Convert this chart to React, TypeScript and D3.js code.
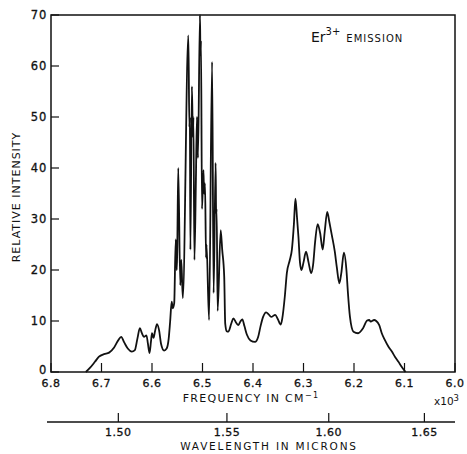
import React from 'react';
import * as d3 from 'd3';

// frequency in units of 10^3 cm^-1
const freq = [
  6.731, 6.723, 6.713, 6.705, 6.695, 6.685, 6.675, 6.667, 6.661, 6.655,
  6.648, 6.640, 6.634, 6.629, 6.624, 6.620, 6.616, 6.611, 6.608, 6.605,
  6.602, 6.600, 6.597, 6.594, 6.590, 6.586, 6.582, 6.576, 6.571, 6.567,
  6.564, 6.561, 6.559, 6.556, 6.553, 6.551, 6.550, 6.548, 6.544, 6.542,
  6.539, 6.528, 6.526, 6.525, 6.524, 6.521, 6.519, 6.518, 6.516, 6.513,
  6.511, 6.509, 6.505, 6.504, 6.503, 6.501, 6.498, 6.497, 6.495, 6.493,
  6.492, 6.487, 6.481, 6.478, 6.474, 6.473, 6.472, 6.470, 6.464, 6.461,
  6.457, 6.455, 6.452, 6.449, 6.443, 6.439, 6.433, 6.429, 6.425, 6.421,
  6.417, 6.412, 6.405, 6.396, 6.390, 6.385, 6.380, 6.374, 6.369, 6.364,
  6.356, 6.351, 6.345, 6.342, 6.337, 6.333, 6.327, 6.323, 6.319, 6.316,
  6.313, 6.310, 6.307, 6.304, 6.300, 6.295, 6.290, 6.285, 6.281, 6.277,
  6.272, 6.267, 6.262, 6.258, 6.253, 6.249, 6.244, 6.238, 6.234, 6.229,
  6.225, 6.220, 6.215, 6.212, 6.208, 6.201, 6.192, 6.182, 6.174, 6.170,
  6.167, 6.160, 6.156, 6.150, 6.145, 6.139, 6.132, 6.125, 6.119, 6.112,
  6.106, 6.101, 6.098,
];

const intensity = [
  0, 0.8, 2.0, 3.0, 3.5, 3.8, 4.8, 6.2, 6.9, 5.8,
  4.6, 4.0, 4.3, 6.5, 8.6, 7.6, 6.9, 7.2, 5.5, 3.7,
  6.0, 7.6, 6.7, 8.0, 9.4, 8.2, 5.5, 4.2, 4.6, 6.5,
  10, 13.8, 12.5, 13.5, 26, 20, 24, 40, 17, 22,
  14.5, 66, 48, 50, 24, 56, 46, 50, 22, 38,
  50, 42, 70, 62, 65, 32, 39.6, 35, 37, 22.4,
  25, 10.2, 60.8, 15.5, 41, 31, 32, 12, 27.8, 24,
  18.7, 9.5, 8.0, 7.9, 9.5, 10.5, 9.6, 9.2, 9.9, 10.3,
  9.0, 7.3, 6.2, 5.9, 6.8, 9.0, 10.8, 11.7, 11.3, 10.8,
  11.2, 10.4, 9.3, 10.5, 14.8, 19.4, 22, 24, 29, 34,
  30.5, 26.5, 21.5, 20, 21.5, 23.6, 21.5, 19.4, 21.0, 25.5,
  29, 27.2, 24, 27.5, 31.4, 29.5, 26.9, 23.6, 20.5, 17.4,
  19.5, 23.4, 20, 15.5, 10.8, 7.9, 7.6, 8.6, 10.1, 10.2,
  9.9, 10.2, 10.0, 9.2, 7.6, 6.3, 5.0, 4.0, 3.0, 2.0,
  1.1, 0.4, 0,
];

const freqTicks = [6.8, 6.7, 6.6, 6.5, 6.4, 6.3, 6.2, 6.1, 6.0];
const intensityTicks = [0, 10, 20, 30, 40, 50, 60, 70];
const wavelengthTicks = [1.5, 1.55, 1.6, 1.65];

const W = 467;
const H = 454;
const left = 51, right = 455, top = 15, bottom = 372;
const font = '"DejaVu Sans", sans-serif';

export default function App() {
  const x = d3.scaleLinear().domain([6.8, 6.0]).range([left, right]);
  const y = d3.scaleLinear().domain([0, 70]).range([bottom, top]);

  const pts = freq.map((f, i) => [f, intensity[i]] as [number, number]);
  const line = d3.line<[number, number]>()
    .x(d => x(d[0]))
    .y(d => y(d[1]))
    .curve(d3.curveMonotoneX);

  const waveY = 422;

  return (
    <svg width={W} height={H} style={{ position: 'absolute', left: 0, top: 0, background: '#fff' }}
      fontFamily={font} fill="#111" stroke="none">
      {/* frame */}
      <rect x={left} y={top} width={right - left} height={bottom - top}
        fill="none" stroke="#111" strokeWidth={1.5} />

      {/* spectrum */}
      <path d={line(pts) || ''} fill="none" stroke="#111" strokeWidth={1.8} strokeLinejoin="round" />

      {/* y ticks */}
      {intensityTicks.map(t => (
        <g key={t}>
          <line x1={left} x2={left + 8} y1={y(t)} y2={y(t)} stroke="#111" strokeWidth={1.2} />
          <text x={left - 4} y={y(t) + (t === 0 ? 2 : 4)} textAnchor="end" fontSize={11.5}
            letterSpacing={0.8} stroke="#111" strokeWidth={0.3}>{t}</text>
        </g>
      ))}

      {/* x ticks */}
      {freqTicks.map(t => (
        <g key={t}>
          <line x1={x(t)} x2={x(t)} y1={bottom} y2={bottom - 9} stroke="#111" strokeWidth={1.2} />
          <text x={x(t)} y={387} textAnchor="middle" fontSize={11} letterSpacing={0.5}
            stroke="#111" strokeWidth={0.3}>{d3.format('.1f')(t)}</text>
        </g>
      ))}

      <text x={251} y={402} textAnchor="middle" fontSize={11} letterSpacing={1.3}>
        FREQUENCY IN CM<tspan dy={-4} fontSize={8}>−1</tspan>
      </text>
      <text x={434} y={405} fontSize={10.5}>
        x10<tspan dy={-4} fontSize={8.5}>3</tspan>
      </text>

      {/* wavelength axis */}
      <line x1={47} x2={right} y1={waveY} y2={waveY} stroke="#111" strokeWidth={1.5} />
      {wavelengthTicks.map(t => (
        <g key={t}>
          <line x1={x(10 / t)} x2={x(10 / t)} y1={waveY} y2={waveY - 9} stroke="#111" strokeWidth={1.2} />
          <text x={x(10 / t)} y={436} textAnchor="middle" fontSize={11} letterSpacing={0.5}
            stroke="#111" strokeWidth={0.3}>{d3.format('.2f')(t)}</text>
        </g>
      ))}
      <text x={269} y={450} textAnchor="middle" fontSize={10.5} letterSpacing={1.8}>WAVELENGTH IN MICRONS</text>

      {/* y label */}
      <text transform="translate(20,197) rotate(-90)" textAnchor="middle" fontSize={11} letterSpacing={1}>
        RELATIVE INTENSITY
      </text>

      {/* title */}
      <text x={311} y={42} fontSize={14}>
        Er<tspan dy={-7} fontSize={10}>3+</tspan>
        <tspan dy={7} dx={6} fontSize={10} letterSpacing={1}>EMISSION</tspan>
      </text>
    </svg>
  );
}
